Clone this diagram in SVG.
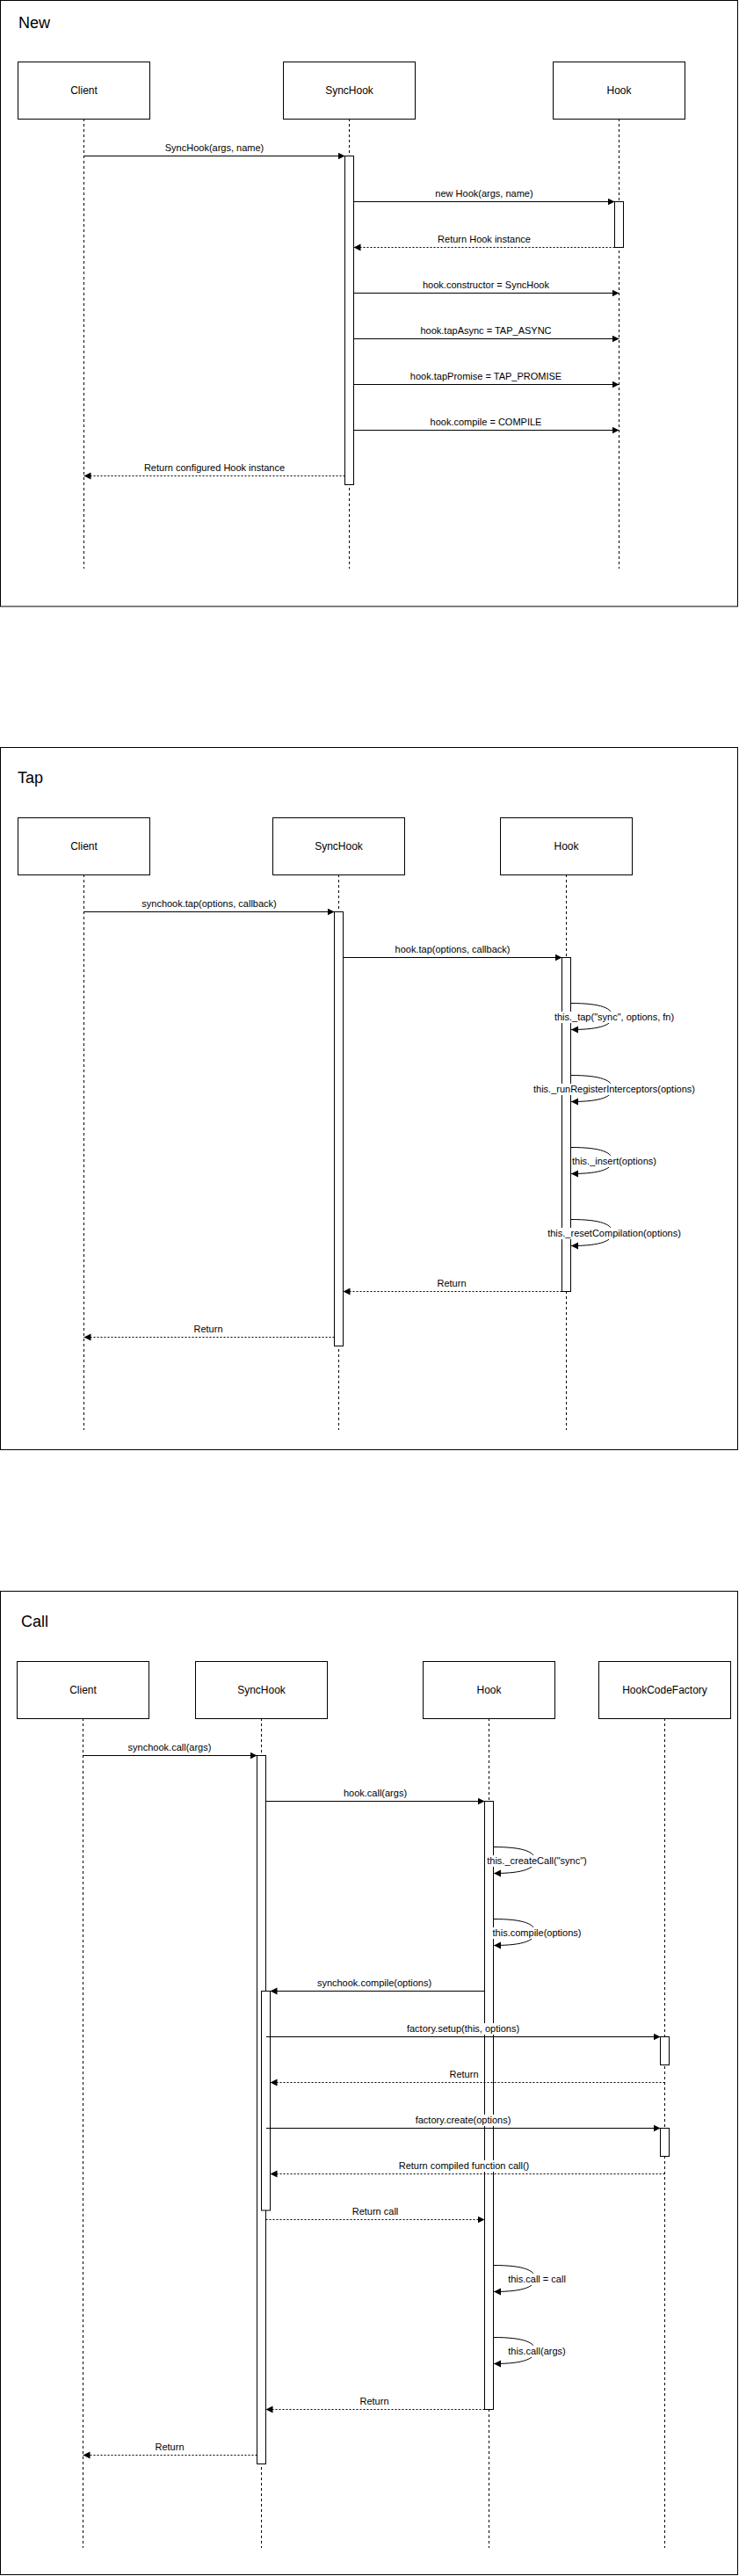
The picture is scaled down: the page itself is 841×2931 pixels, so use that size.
<svg xmlns="http://www.w3.org/2000/svg" width="841" height="2931" viewBox="0 0 841 2931">
<style>
text{font-family:"Liberation Sans",Arial,Helvetica,sans-serif;fill:#000}
.frame{fill:none;stroke:#000;stroke-width:1}
.title{font-size:18px}
.box{fill:#fff;stroke:#000;stroke-width:1}
.bl{font-size:12px;text-anchor:middle}
.life{fill:none;stroke:#000;stroke-width:1;stroke-dasharray:3 3}
.act{fill:#fff;stroke:#000;stroke-width:1}
.msg{fill:none;stroke:#000;stroke-width:1;marker-end:url(#arr)}
.ret{fill:none;stroke:#000;stroke-width:1;stroke-dasharray:2 2;marker-end:url(#arr)}
.ml{font-size:11px;text-anchor:middle}
.lbg{fill:#fff;stroke:none}
</style>
<defs>
<marker id="arr" markerUnits="userSpaceOnUse" markerWidth="9" markerHeight="9" refX="8" refY="4" orient="auto" viewBox="0 0 9 9">
<path d="M0,0 L8,4 L0,8 z" fill="#000" stroke="none"/>
</marker>
</defs>
<rect width="841" height="2931" fill="#fff"/>

<!-- ===== NEW ===== -->
<g id="frame-new">
<rect class="frame" x="0.5" y="0.5" width="839" height="689.5"/>
<text class="title" x="21" y="32">New</text>
</g>
<g id="new-client">
<line class="life" x1="95.5" y1="135" x2="95.5" y2="647"/>
<rect class="box" x="20.5" y="70.5" width="150" height="65"/>
<text class="bl" x="95.5" y="107">Client</text>
</g>
<g id="new-synchook">
<line class="life" x1="397.5" y1="135" x2="397.5" y2="647"/>
<rect class="box" x="322.5" y="70.5" width="150" height="65"/>
<text class="bl" x="397.5" y="107">SyncHook</text>
<rect id="new-synchook-act" class="act" x="392.5" y="177.5" width="10" height="374"/>
</g>
<g id="new-hook">
<line class="life" x1="704.5" y1="135" x2="704.5" y2="647"/>
<rect class="box" x="629.5" y="70.5" width="150" height="65"/>
<text class="bl" x="704.5" y="107">Hook</text>
<rect id="new-hook-act" class="act" x="699.5" y="229.5" width="10" height="52"/>
</g>
<g id="new-connectors">
<line class="msg" x1="95.5" y1="177.5" x2="392.5" y2="177.5"/>
<text class="ml" x="244" y="172">SyncHook(args, name)</text>
<line class="msg" x1="402.5" y1="229.5" x2="699.5" y2="229.5"/>
<text class="ml" x="551" y="224">new Hook(args, name)</text>
<line class="ret" x1="699.5" y1="281.5" x2="402.5" y2="281.5"/>
<text class="ml" x="551" y="276">Return Hook instance</text>
<line class="msg" x1="402.5" y1="333.5" x2="704.5" y2="333.5"/>
<text class="ml" x="553" y="328">hook.constructor = SyncHook</text>
<line class="msg" x1="402.5" y1="385.5" x2="704.5" y2="385.5"/>
<text class="ml" x="553" y="380">hook.tapAsync = TAP_ASYNC</text>
<line class="msg" x1="402.5" y1="437.5" x2="704.5" y2="437.5"/>
<text class="ml" x="553" y="432">hook.tapPromise = TAP_PROMISE</text>
<line class="msg" x1="402.5" y1="489.5" x2="704.5" y2="489.5"/>
<text class="ml" x="553" y="484">hook.compile = COMPILE</text>
<line class="ret" x1="392.5" y1="541.5" x2="95.5" y2="541.5"/>
<text class="ml" x="244" y="536">Return configured Hook instance</text>
</g>

<!-- ===== TAP ===== -->
<g id="frame-tap">
<rect class="frame" x="0.5" y="850.5" width="839" height="799"/>
<text class="title" x="20" y="891">Tap</text>
</g>
<g id="tap-client">
<line class="life" x1="95.5" y1="995" x2="95.5" y2="1627"/>
<rect class="box" x="20.5" y="930.5" width="150" height="65"/>
<text class="bl" x="95.5" y="967">Client</text>
</g>
<g id="tap-synchook">
<line class="life" x1="385.5" y1="995" x2="385.5" y2="1627"/>
<rect class="box" x="310.5" y="930.5" width="150" height="65"/>
<text class="bl" x="385.5" y="967">SyncHook</text>
<rect id="tap-synchook-act" class="act" x="380.5" y="1037.5" width="10" height="494"/>
</g>
<g id="tap-hook">
<line class="life" x1="644.5" y1="995" x2="644.5" y2="1627"/>
<rect class="box" x="569.5" y="930.5" width="150" height="65"/>
<text class="bl" x="644.5" y="967">Hook</text>
<rect id="tap-hook-act" class="act" x="639.5" y="1089.5" width="10" height="380"/>
</g>
<g id="tap-connectors">
<line class="msg" x1="95.5" y1="1037.5" x2="380.5" y2="1037.5"/>
<text class="ml" x="238" y="1032">synchook.tap(options, callback)</text>
<line class="msg" x1="390.5" y1="1089.5" x2="639.5" y2="1089.5"/>
<text class="ml" x="515" y="1084">hook.tap(options, callback)</text>
<path class="msg" d="M649.5,1141.5 C685,1141.5 697,1147.5 697,1156.5 C697,1165.5 685,1171.5 650,1171.5"/>
<rect class="lbg" x="630" y="1151" width="138" height="13"/>
<text class="ml" x="699" y="1161">this._tap("sync", options, fn)</text>
<path class="msg" d="M649.5,1223.5 C685,1223.5 697,1229.5 697,1238.5 C697,1247.5 685,1253.5 650,1253.5"/>
<rect class="lbg" x="606" y="1233" width="186" height="13"/>
<text class="ml" x="699" y="1243">this._runRegisterInterceptors(options)</text>
<path class="msg" d="M649.5,1305.5 C685,1305.5 697,1311.5 697,1320.5 C697,1329.5 685,1335.5 650,1335.5"/>
<rect class="lbg" x="650" y="1315" width="98" height="13"/>
<text class="ml" x="699" y="1325">this._insert(options)</text>
<path class="msg" d="M649.5,1387.5 C685,1387.5 697,1393.5 697,1402.5 C697,1411.5 685,1417.5 650,1417.5"/>
<rect class="lbg" x="622.5" y="1397" width="153" height="13"/>
<text class="ml" x="699" y="1407">this._resetCompilation(options)</text>
<line class="ret" x1="639.5" y1="1469.5" x2="390.5" y2="1469.5"/>
<text class="ml" x="514" y="1464">Return</text>
<line class="ret" x1="380.5" y1="1521.5" x2="95.5" y2="1521.5"/>
<text class="ml" x="237" y="1516">Return</text>
</g>

<!-- ===== CALL ===== -->
<g id="frame-call">
<rect class="frame" x="0.5" y="1810.5" width="839" height="1119"/>
<text class="title" x="24" y="1851">Call</text>
</g>
<g id="call-client">
<line class="life" x1="94.5" y1="1955" x2="94.5" y2="2899"/>
<rect class="box" x="19.5" y="1890.5" width="150" height="65"/>
<text class="bl" x="94.5" y="1927">Client</text>
</g>
<g id="call-synchook">
<line class="life" x1="297.5" y1="1955" x2="297.5" y2="2899"/>
<rect class="box" x="222.5" y="1890.5" width="150" height="65"/>
<text class="bl" x="297.5" y="1927">SyncHook</text>
<rect id="call-synchook-act" class="act" x="292.5" y="1997.5" width="10" height="806"/>
<rect id="call-synchook-act2" class="act" x="297.5" y="2265.5" width="10" height="249.5"/>
</g>
<g id="call-hook">
<line class="life" x1="556.5" y1="1955" x2="556.5" y2="2899"/>
<rect class="box" x="481.5" y="1890.5" width="150" height="65"/>
<text class="bl" x="556.5" y="1927">Hook</text>
<rect id="call-hook-act" class="act" x="551.5" y="2049.5" width="10" height="692"/>
</g>
<g id="call-factory">
<line class="life" x1="756.5" y1="1955" x2="756.5" y2="2899"/>
<rect class="box" x="681.5" y="1890.5" width="150" height="65"/>
<text class="bl" x="756.5" y="1927">HookCodeFactory</text>
<rect id="call-factory-act1" class="act" x="751.5" y="2317.5" width="10" height="32"/>
<rect id="call-factory-act2" class="act" x="751.5" y="2421.5" width="10" height="32"/>
</g>
<g id="call-connectors">
<line class="msg" x1="94.5" y1="1997.5" x2="292.5" y2="1997.5"/>
<text class="ml" x="193" y="1992">synchook.call(args)</text>
<line class="msg" x1="302.5" y1="2049.5" x2="551.5" y2="2049.5"/>
<text class="ml" x="427" y="2044">hook.call(args)</text>
<path class="msg" d="M561.5,2101.5 C597,2101.5 609,2107.5 609,2116.5 C609,2125.5 597,2131.5 562,2131.5"/>
<rect class="lbg" x="554" y="2111" width="115" height="13"/>
<text class="ml" x="611" y="2121">this._createCall("sync")</text>
<path class="msg" d="M561.5,2183.5 C597,2183.5 609,2189.5 609,2198.5 C609,2207.5 597,2213.5 562,2213.5"/>
<rect class="lbg" x="560" y="2193" width="102" height="13"/>
<text class="ml" x="611" y="2203">this.compile(options)</text>
<line class="msg" x1="551.5" y1="2265.5" x2="307.5" y2="2265.5"/>
<text class="ml" x="426" y="2260">synchook.compile(options)</text>
<line class="msg" x1="303" y1="2317.5" x2="751.5" y2="2317.5"/>
<rect class="lbg" x="462" y="2302" width="130" height="13"/>
<text class="ml" x="527" y="2312">factory.setup(this, options)</text>
<line class="ret" x1="756.5" y1="2369.5" x2="307.5" y2="2369.5"/>
<text class="ml" x="528" y="2364">Return</text>
<line class="msg" x1="303" y1="2421.5" x2="751.5" y2="2421.5"/>
<rect class="lbg" x="472" y="2406" width="110" height="13"/>
<text class="ml" x="527" y="2416">factory.create(options)</text>
<line class="ret" x1="756.5" y1="2473.5" x2="307.5" y2="2473.5"/>
<rect class="lbg" x="453.5" y="2458" width="149" height="13"/>
<text class="ml" x="528" y="2468">Return compiled function call()</text>
<line class="ret" x1="302.5" y1="2525.5" x2="551.5" y2="2525.5"/>
<text class="ml" x="427" y="2520">Return call</text>
<path class="msg" d="M561.5,2577.5 C597,2577.5 609,2583.5 609,2592.5 C609,2601.5 597,2607.5 562,2607.5"/>
<rect class="lbg" x="578" y="2587" width="66" height="13"/>
<text class="ml" x="611" y="2597">this.call = call</text>
<path class="msg" d="M561.5,2659.5 C597,2659.5 609,2665.5 609,2674.5 C609,2683.5 597,2689.5 562,2689.5"/>
<rect class="lbg" x="578" y="2669" width="66" height="13"/>
<text class="ml" x="611" y="2679">this.call(args)</text>
<line class="ret" x1="551.5" y1="2741.5" x2="302.5" y2="2741.5"/>
<text class="ml" x="426" y="2736">Return</text>
<line class="ret" x1="292.5" y1="2793.5" x2="94.5" y2="2793.5"/>
<text class="ml" x="193" y="2788">Return</text>
</g>
</svg>
